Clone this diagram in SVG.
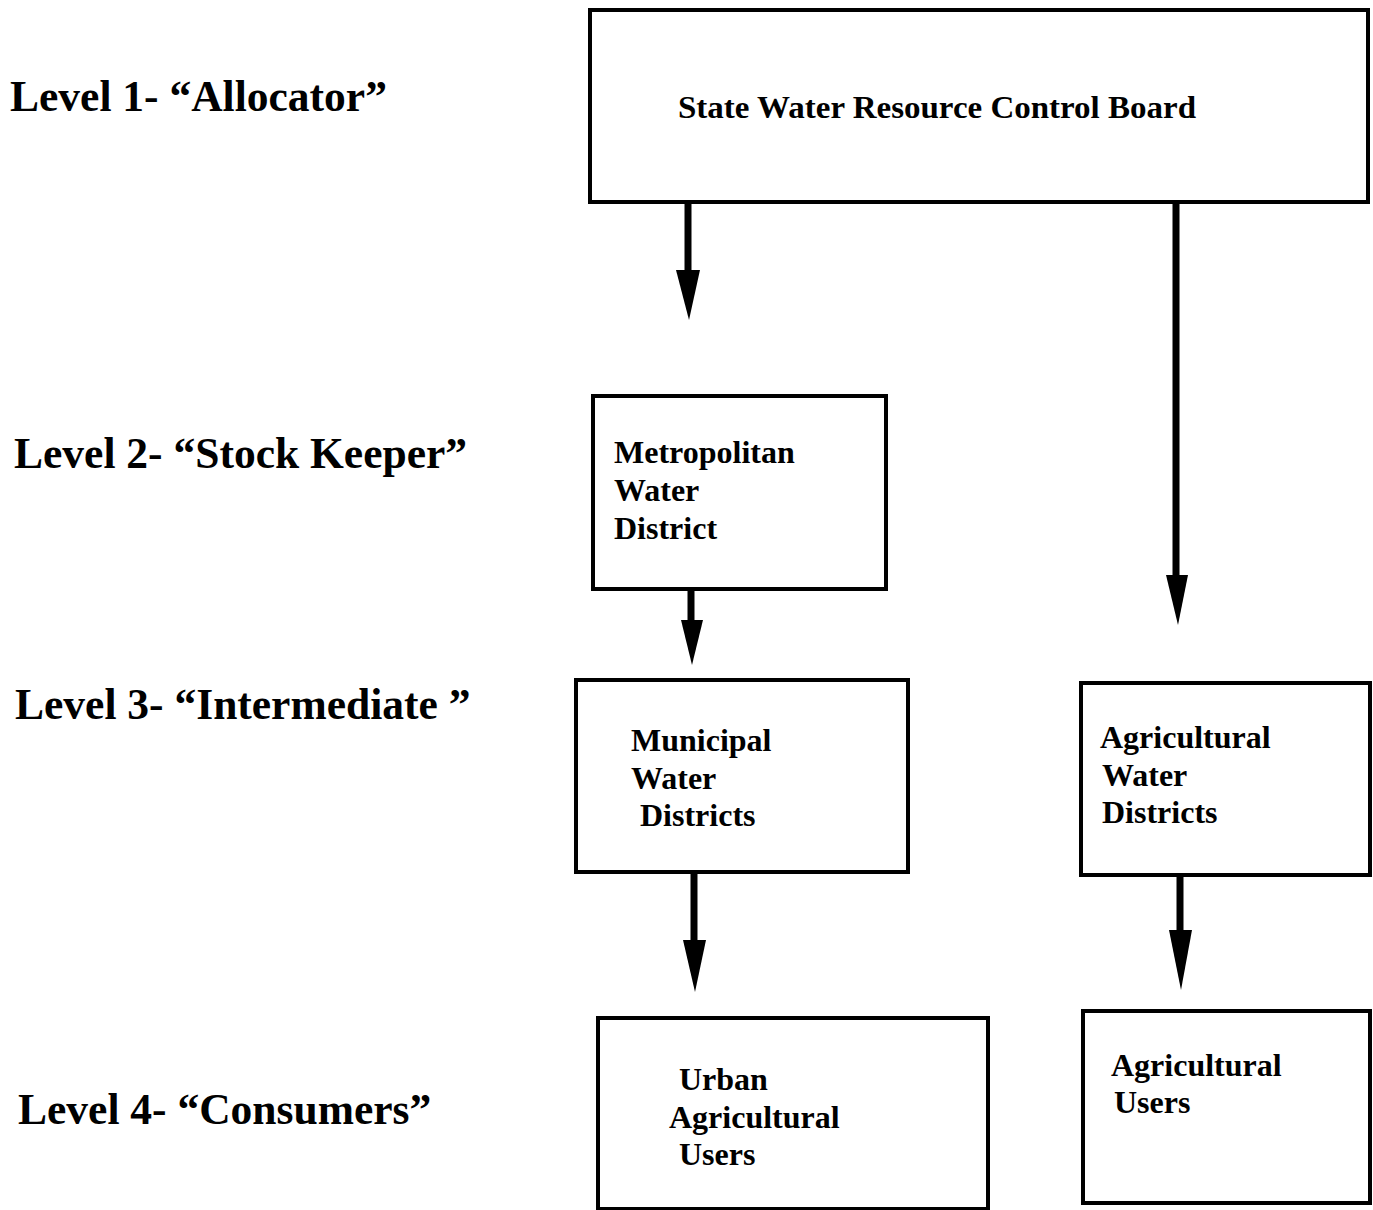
<svg xmlns="http://www.w3.org/2000/svg" width="1373" height="1210" viewBox="0 0 1373 1210">
<style>
.box{fill:#fff;stroke:#000;stroke-width:4}
.lvl{font-family:"Liberation Serif",serif;font-weight:bold;font-size:43.5px;fill:#000}
.t{font-family:"Liberation Serif",serif;font-weight:bold;font-size:32px;fill:#000}
.shaft{stroke:#000;stroke-width:7;fill:none}
.head{fill:#000}
</style>
<rect width="1373" height="1210" fill="#fff"/>
<g id="levels">
<text class="lvl" x="10" y="111">Level 1- “Allocator”</text>
<text class="lvl" x="14" y="468">Level 2- “Stock Keeper”</text>
<text class="lvl" x="15" y="719">Level 3- “Intermediate ”</text>
<text class="lvl" x="18" y="1124">Level 4- “Consumers”</text>
</g>
<g id="connectors">
<line class="shaft" x1="688" y1="202" x2="688" y2="275"/>
<polygon class="head" points="676,270 700,270 689,320"/>
<line class="shaft" x1="1176" y1="195" x2="1176" y2="580"/>
<polygon class="head" points="1166,575 1188,575 1178,625"/>
<line class="shaft" x1="691" y1="589" x2="691" y2="625"/>
<polygon class="head" points="681,620 703,620 692,665"/>
<line class="shaft" x1="694" y1="872" x2="694" y2="945"/>
<polygon class="head" points="683,940 706,940 695,992"/>
<line class="shaft" x1="1180" y1="875" x2="1180" y2="935"/>
<polygon class="head" points="1169,930 1192,930 1181,990"/>
</g>
<g id="n1"><rect class="box" x="590" y="10" width="778" height="192"/>
<text class="t" x="678" y="118" textLength="518" lengthAdjust="spacingAndGlyphs">State Water  Resource Control Board</text></g>
<g id="n2"><rect class="box" x="593" y="396" width="293" height="193"/>
<text class="t" x="614" y="463">Metropolitan</text><text class="t" x="614" y="501">Water</text><text class="t" x="614" y="539">District</text></g>
<g id="n3"><rect class="box" x="576" y="680" width="332" height="192"/>
<text class="t" x="631" y="751">Municipal</text><text class="t" x="631" y="789">Water</text><text class="t" x="640" y="826">Districts</text></g>
<g id="n4"><rect class="box" x="1081" y="683" width="289" height="192"/>
<text class="t" x="1100" y="748">Agricultural</text><text class="t" x="1102" y="786">Water</text><text class="t" x="1102" y="823">Districts</text></g>
<g id="n5"><rect class="box" x="598" y="1018" width="390" height="191"/>
<text class="t" x="679" y="1090">Urban</text><text class="t" x="669" y="1128">Agricultural</text><text class="t" x="679" y="1165">Users</text></g>
<g id="n6"><rect class="box" x="1083" y="1011" width="287" height="192"/>
<text class="t" x="1111" y="1076">Agricultural</text><text class="t" x="1114" y="1113">Users</text></g>
</svg>
